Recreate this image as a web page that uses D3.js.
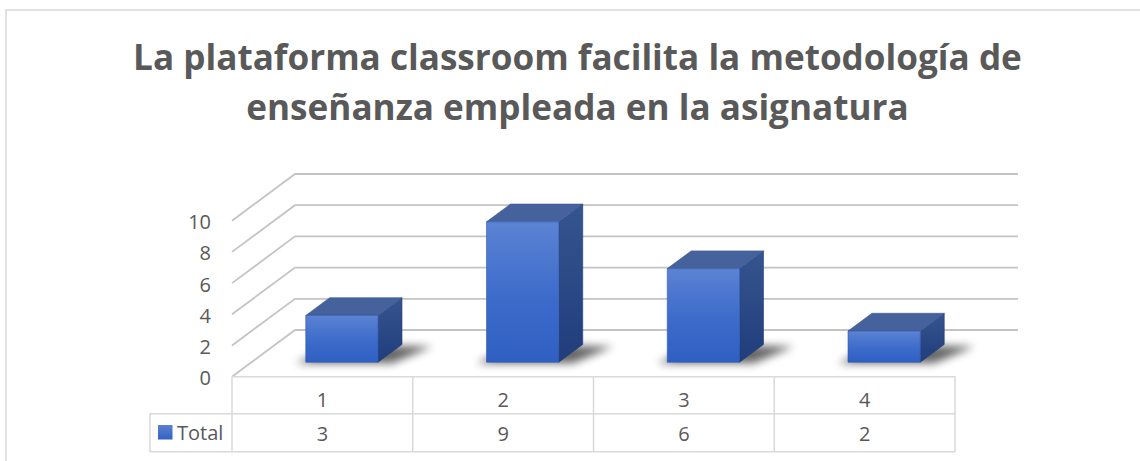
<!DOCTYPE html>
<html><head><meta charset="utf-8">
<script src="https://cdn.jsdelivr.net/npm/d3@7"></script>
<style>body{margin:0;background:#fff}svg{display:block}</style>
</head><body><svg id="c" width="1140" height="461"></svg>
<script>
const titleLines = ["La plataforma classroom facilita la metodología de", "enseñanza empleada en la asignatura"];
const categories = ["1", "2", "3", "4"];
const values = [3, 9, 6, 2];
const seriesName = "Total";
const yTicks = [0, 2, 4, 6, 8, 10];

const svg = d3.select("#c");
const FONT = "'Open Sans', sans-serif";
const TXT = "#595959";
const x0 = 232, x1 = 955, yBase = 376.7, DX = 63, DY = 46.7;
const fFront = 0.31, fBack = 0.69;

const x = d3.scaleBand().domain(categories).range([x0, x1]).paddingInner(0.6).paddingOuter(0.3);
const y = d3.scaleLinear().domain([0, 10]).range([yBase, yBase - 156]);
const P = (px, v, f) => [px + f * DX, y(v) - f * DY];
const pts = a => a.map(p => p.join(",")).join(" ");

// defs
const defs = svg.append("defs");
const gFront = defs.append("linearGradient").attr("id", "gf").attr("x1", 0).attr("y1", 0).attr("x2", 0).attr("y2", 1);
gFront.append("stop").attr("offset", "0%").attr("stop-color", "#5c83d3");
gFront.append("stop").attr("offset", "55%").attr("stop-color", "#3c6bca");
gFront.append("stop").attr("offset", "100%").attr("stop-color", "#2f5fc2");
const gSide = defs.append("linearGradient").attr("id", "gs").attr("x1", 0).attr("y1", 0).attr("x2", 0).attr("y2", 1);
gSide.append("stop").attr("offset", "0%").attr("stop-color", "#35558f");
gSide.append("stop").attr("offset", "100%").attr("stop-color", "#213d7c");
const gLeg = defs.append("linearGradient").attr("id", "gl").attr("x1", 0).attr("y1", 0).attr("x2", 0).attr("y2", 1);
gLeg.append("stop").attr("offset", "0%").attr("stop-color", "#5a80d0");
gLeg.append("stop").attr("offset", "100%").attr("stop-color", "#3363c5");
defs.append("filter").attr("id", "sh").attr("x", "-50%").attr("y", "-50%").attr("width", "200%").attr("height", "200%")
  .append("feGaussianBlur").attr("stdDeviation", 4);

// outer border
svg.append("rect").attr("x", 6).attr("y", 10).attr("width", 1200).attr("height", 500)
  .attr("fill", "none").attr("stroke", "#d9d9d9").attr("stroke-width", 1.5);

// title
const tg = svg.append("g");
const t1 = tg.append("text").text(titleLines[0]).attr("font-family", FONT).attr("font-weight", "bold").attr("font-size", 36);
const w = t1.node().getComputedTextLength();
const fs = 36 * 889 / w;
tg.selectAll("text").remove();
tg.selectAll("text").data(titleLines).join("text")
  .attr("x", 577.5).attr("y", (d, i) => 70 + i * 50)
  .attr("text-anchor", "middle").attr("font-family", FONT).attr("font-weight", "bold")
  .attr("font-size", fs).attr("fill", TXT).text(d => d);

// gridlines (side wall + back wall)
svg.append("g").selectAll("polyline").data(yTicks).join("polyline")
  .attr("points", t => pts([P(x0, t, 0), P(x0, t, 1), P(x1, t, 1)]))
  .attr("fill", "none").attr("stroke", "#c4c4c4").attr("stroke-width", 1.8);

// axis
const ax = svg.append("g").attr("transform", `translate(${x0},0)`)
  .call(d3.axisLeft(y).tickValues(yTicks).tickSize(0).tickPadding(21));
ax.select(".domain").remove();
ax.selectAll("text").attr("font-family", FONT).attr("font-size", 20).attr("fill", TXT).attr("dy", "0.4em");

// bars
const data = categories.map((c, i) => ({ c, v: values[i] }));
const bars = svg.append("g").selectAll("g").data(data).join("g");
bars.append("polygon").attr("filter", "url(#sh)").attr("fill", "#000").attr("opacity", 0.6)
  .attr("points", d => {
    const l = x(d.c), r = x(d.c) + x.bandwidth();
    const a = P(l, 0, fFront), b = P(r, 0, fFront), c = P(r, 0, fBack), e = P(l, 0, fBack);
    return pts([[a[0] - 10, a[1] + 1], [b[0] + 14, b[1] + 1], [c[0] + 30, c[1] + 2], [e[0] + 6, e[1]]]);
  });
bars.append("polygon").attr("fill", "url(#gs)").attr("stroke", "#203c78").attr("stroke-width", 0.6)
  .attr("points", d => {
    const r = x(d.c) + x.bandwidth();
    return pts([P(r, 0, fFront), P(r, 0, fBack), P(r, d.v, fBack), P(r, d.v, fFront)]);
  });
bars.append("polygon").attr("fill", "#46629c").attr("stroke", "#3a5590").attr("stroke-width", 0.6)
  .attr("points", d => {
    const l = x(d.c), r = x(d.c) + x.bandwidth();
    return pts([P(l, d.v, fFront), P(r, d.v, fFront), P(r, d.v, fBack), P(l, d.v, fBack)]);
  });
bars.append("polygon").attr("fill", "url(#gf)").attr("stroke", "#2d58b0").attr("stroke-width", 0.6)
  .attr("points", d => {
    const l = x(d.c), r = x(d.c) + x.bandwidth();
    return pts([P(l, 0, fFront), P(r, 0, fFront), P(r, d.v, fFront), P(l, d.v, fFront)]);
  });

// data table
const rowTop = yBase, rowMid = 413.7, rowBot = 451.7, legL = 150;
const half = (x.step() - x.bandwidth()) / 2;
const colL = c => x(c) - half;
const tbl = svg.append("g").attr("stroke", "#d9d9d9").attr("stroke-width", 1.5).attr("fill", "none");
tbl.append("path").attr("d",
  `M${x0},${rowTop}H${x1}V${rowBot}H${legL}V${rowMid}H${x1}M${x0},${rowTop}V${rowBot}` +
  categories.slice(1).map(c => `M${colL(c)},${rowTop}V${rowBot}`).join(""));

svg.append("g").selectAll("text").data(categories).join("text")
  .attr("x", c => x(c) + x.bandwidth() / 2).attr("y", 407).attr("text-anchor", "middle")
  .attr("font-family", FONT).attr("font-size", 20).attr("fill", TXT).text(c => c);
svg.append("g").selectAll("text").data(data).join("text")
  .attr("x", d => x(d.c) + x.bandwidth() / 2).attr("y", 441).attr("text-anchor", "middle")
  .attr("font-family", FONT).attr("font-size", 20).attr("fill", TXT).text(d => d.v);

svg.append("rect").attr("x", 158).attr("y", 425).attr("width", 14.5).attr("height", 14.5).attr("fill", "url(#gl)");
svg.append("text").attr("x", 177).attr("y", 440).attr("font-family", FONT).attr("font-size", 20)
  .attr("fill", TXT).text(seriesName);
</script></body></html>
